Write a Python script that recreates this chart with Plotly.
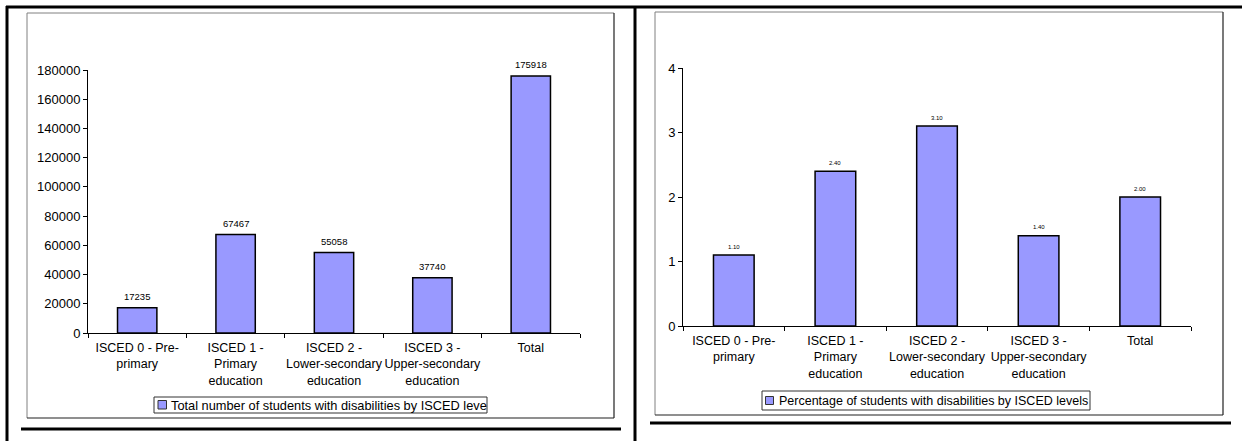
import plotly.graph_objects as go

# ---------------- data ----------------
categories = [
    "ISCED 0 - Pre-<br>primary",
    "ISCED 1 -<br>Primary<br>education",
    "ISCED 2 -<br>Lower-secondary<br>education",
    "ISCED 3 -<br>Upper-secondary<br>education",
    "Total",
]
total_students = [17235, 67467, 55058, 37740, 175918]
pct_students = [1.10, 2.40, 3.10, 1.40, 2.00]
legend1_text = "Total number of students with disabilities by ISCED leve"
legend2_text = "Percentage of students with disabilities by ISCED levels"
y1_ticks = [0, 20000, 40000, 60000, 80000, 100000, 120000, 140000, 160000, 180000]
y2_ticks = [0, 1, 2, 3, 4]

# ---------------- geometry helpers ----------------
W, H = 1242, 441
def px(x):
    return x / W
def py(y):
    return 1 - y / H

FONT = "Liberation Sans, Arial, sans-serif"
BAR_COLOR = "#9999FF"

fig = go.Figure()
fig.add_trace(go.Bar(
    x=categories, y=total_students, xaxis="x", yaxis="y",
    width=0.4, marker=dict(color=BAR_COLOR, line=dict(color="black", width=1.5)),
    showlegend=False, hoverinfo="x+y",
))
fig.add_trace(go.Bar(
    x=categories, y=pct_students, xaxis="x2", yaxis="y2",
    width=0.4, marker=dict(color=BAR_COLOR, line=dict(color="black", width=1.5)),
    showlegend=False, hoverinfo="x+y",
))

annotations = []
for c, v in zip(categories, total_students):
    annotations.append(dict(x=c, y=v, xref="x", yref="y", text=str(v), showarrow=False,
                            yanchor="middle", yshift=11, font=dict(family=FONT, size=9.5, color="black")))
for c, v in zip(categories, pct_students):
    annotations.append(dict(x=c, y=v, xref="x2", yref="y2", text=f"{v:.2f}", showarrow=False,
                            yanchor="middle", yshift=8.5, font=dict(family=FONT, size=6, color="black")))

# manual legends
annotations.append(dict(x=px(169), y=py(405), xref="paper", yref="paper", text=legend1_text,
                        showarrow=False, xanchor="left", yanchor="middle",
                        font=dict(family=FONT, size=12.8, color="black")))
annotations.append(dict(x=px(777), y=py(400.5), xref="paper", yref="paper", text=legend2_text,
                        showarrow=False, xanchor="left", yanchor="middle",
                        font=dict(family=FONT, size=12.5, color="black")))

shapes = []
def line(x0, y0, x1, y1, color, width):
    shapes.append(dict(type="line", xref="paper", yref="paper",
                       x0=px(x0), y0=py(y0), x1=px(x1), y1=py(y1),
                       line=dict(color=color, width=width)))
def rect(x0, y0, x1, y1, color, width, fill=None):
    d = dict(type="rect", xref="paper", yref="paper",
             x0=px(x0), y0=py(y0), x1=px(x1), y1=py(y1),
             line=dict(color=color, width=width))
    if fill:
        d["fillcolor"] = fill
    shapes.append(d)

# document table borders (thick black)
line(6, 7, 1242, 7, "black", 3)
line(7, 6, 7, 441, "black", 3)
line(635, 6, 635, 441, "black", 3)
line(21, 429, 621, 429, "black", 3)
line(650, 423, 1231, 423, "black", 3)

# chart frames
for (x0, y0, x1, y1) in [(27, 13, 614, 418), (655, 12, 1223, 415)]:
    line(x0, y0, x1, y0, "#808080", 1)
    line(x0, y0, x0, y1, "#808080", 1)
    line(x1, y0, x1, y1, "#202020", 1.2)
    line(x0, y1, x1, y1, "#202020", 1.2)

# legend boxes and swatches
rect(154, 397, 487, 413, "#333333", 1)
rect(158, 400.5, 166.5, 409, "#333333", 1, BAR_COLOR)
rect(762, 391, 1090, 410, "#333333", 1)
rect(765.5, 396.5, 773.5, 404.5, "#333333", 1, BAR_COLOR)

axis_common = dict(showline=True, linecolor="black", linewidth=1, showgrid=False,
                   zeroline=False, ticks="outside", ticklen=4, tickcolor="black",
                   automargin=False, tickangle=0, fixedrange=True)
xfont = dict(family=FONT, size=12.5, color="black")
yfont = dict(family=FONT, size=13, color="black")

fig.update_layout(
    width=W, height=H, margin=dict(l=0, r=0, t=0, b=0, autoexpand=False),
    paper_bgcolor="white", plot_bgcolor="white",
    font=dict(family=FONT, color="black"),
    bargap=0.6,
    xaxis=dict(domain=[px(88), px(580)], anchor="y", type="category", tickson="boundaries",
               ticklabelstandoff=3, tickfont=xfont, **axis_common),
    yaxis=dict(domain=[py(333), py(70)], anchor="x", range=[0, 180000],
               tickvals=y1_ticks, tickformat="d", tickfont=yfont, **axis_common),
    xaxis2=dict(domain=[px(683), px(1191)], anchor="y2", type="category", tickson="boundaries",
                ticklabelstandoff=3, tickfont=xfont, **axis_common),
    yaxis2=dict(domain=[py(326), py(68)], anchor="x2", range=[0, 4],
                tickvals=y2_ticks, tickfont=yfont, **axis_common),
    annotations=annotations,
    shapes=shapes,
)

fig.write_html("out.html", config={"displayModeBar": False},
               post_script="document.body.style.margin='0';")
